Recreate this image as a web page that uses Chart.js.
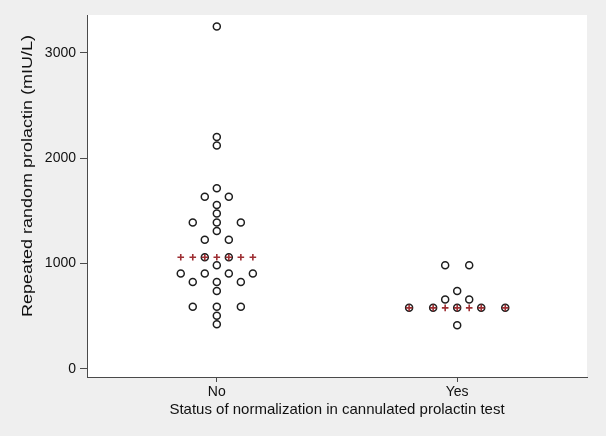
<!DOCTYPE html>
<html>
<head>
<meta charset="utf-8">
<script src="https://cdn.jsdelivr.net/npm/chart.js@4.4.1/dist/chart.umd.min.js"></script>
<style>
  html, body { margin: 0; padding: 0; background: #efefef; }
  #wrap { width: 606px; height: 436px; }
</style>
</head>
<body>
<div id="wrap"><canvas id="chart" width="606" height="436"></canvas></div>
<script>
// Groups on the x axis
const groups = ['No', 'Yes'];

// Repeated random prolactin (mIU/L)
const noValues = [3250, 2200, 2120, 1715, 1635, 1635, 1555, 1475, 1390, 1390, 1390,
                  1310, 1225, 1225, 1060, 1060, 985, 905, 905, 905, 905,
                  825, 825, 825, 740, 590, 590, 590, 505, 425];
const yesValues = [985, 985, 740, 660, 660, 580, 580, 580, 580, 580, 415];

const yTicks = [0, 1000, 2000, 3000];
const xTitle = 'Status of normalization in cannulated prolactin test';
const yTitle = 'Repeated random prolactin (mIU/L)';

// Horizontal spacing between dots in a row (x-axis units)
const STEP = 0.05;

// Stata-like dotplot: equal values share a row, centred on the group
function dotRows(values) {
    const counts = {};
    values.forEach(v => counts[v] = (counts[v] || 0) + 1);
    return counts;
}

function dotPoints(values, gi) {
    const counts = dotRows(values);
    const pts = [];
    Object.keys(counts).forEach(k => {
        const n = counts[k];
        for (let i = 0; i < n; i++) {
            pts.push({ x: gi + (2 * i - (n - 1)) * STEP, y: +k });
        }
    });
    return pts;
}

function median(values) {
    const s = values.slice().sort((a, b) => a - b);
    const m = Math.floor(s.length / 2);
    return s.length % 2 ? s[m] : (s[m - 1] + s[m]) / 2;
}

// Median markers: across the widest row plus the central slots
function medianPoints(values, gi) {
    const counts = dotRows(values);
    const widest = Math.max(...Object.values(counts));
    const slots = new Set([-2, -1, 0, 1, 2]);
    for (let i = 0; i < widest; i++) slots.add(2 * i - (widest - 1));
    const med = median(values);
    return [...slots].sort((a, b) => a - b).map(s => ({ x: gi + s * STEP, y: med }));
}

const seriesValues = [noValues, yesValues];
let dots = [], medians = [];
seriesValues.forEach((vals, gi) => {
    dots = dots.concat(dotPoints(vals, gi));
    medians = medians.concat(medianPoints(vals, gi));
});

const FAMILY = "'Liberation Sans', Arial, Helvetica, sans-serif";
const TICK_FONT = { family: FAMILY, size: 14 };
const TITLE_FONT = { family: FAMILY, size: 15 };
const AXIS = '#4a4a4a';
const TEXT = '#111111';

// Grey page, white plot region
const backgroundPlugin = {
    id: 'background',
    beforeDraw(chart) {
        const { ctx, chartArea: a } = chart;
        ctx.save();
        ctx.fillStyle = '#efefef';
        ctx.fillRect(0, 0, chart.width, chart.height);
        ctx.fillStyle = '#ffffff';
        ctx.fillRect(a.left, a.top, a.right - a.left, a.bottom - a.top);
        ctx.restore();
    }
};

// Y title drawn separately so it can sit where Stata put it
const yTitlePlugin = {
    id: 'yTitle',
    afterDraw(chart) {
        const { ctx } = chart;
        ctx.save();
        ctx.translate(28, 176);
        ctx.rotate(-Math.PI / 2);
        ctx.scale(1.2, 1);
        ctx.font = `${TITLE_FONT.size}px ${FAMILY}`;
        ctx.fillStyle = TEXT;
        ctx.textAlign = 'center';
        ctx.textBaseline = 'middle';
        ctx.fillText(yTitle, 0, 0);
        ctx.restore();
    }
};

new Chart(document.getElementById('chart'), {
    type: 'scatter',
    data: {
        datasets: [{
            label: 'Median',
            data: medians,
            pointStyle: 'cross',
            pointRadius: 3.3,
            pointBorderWidth: 1.6,
            borderColor: '#9e2f33',
            backgroundColor: '#9e2f33',
            order: 0
        }, {
            label: 'Prolactin',
            data: dots,
            pointStyle: 'circle',
            pointRadius: 3.5,
            pointBorderWidth: 1.5,
            borderColor: '#1e1e1e',
            backgroundColor: 'rgba(0,0,0,0)',
            order: 1
        }]
    },
    options: {
        responsive: false,
        animation: false,
        events: [],
        layout: { padding: { left: 0, top: 15, right: 19, bottom: 0 } },
        plugins: {
            legend: { display: false },
            tooltip: { enabled: false }
        },
        scales: {
            x: {
                type: 'linear',
                min: -0.54,
                max: 1.54,
                afterBuildTicks: scale => { scale.ticks = groups.map((g, i) => ({ value: i })); },
                afterFit: scale => { scale.height = 59; },
                ticks: {
                    callback: v => groups[v],
                    font: TICK_FONT,
                    color: TEXT,
                    padding: 2,
                    maxRotation: 0
                },
                grid: {
                    display: true,
                    drawOnChartArea: false,
                    drawTicks: true,
                    tickLength: 5,
                    color: AXIS
                },
                border: { display: true, color: AXIS, width: 1 },
                title: {
                    display: true,
                    text: xTitle,
                    font: TITLE_FONT,
                    color: TEXT,
                    padding: { top: 0, bottom: 17 }
                }
            },
            y: {
                type: 'linear',
                min: -76,
                max: 3358,
                afterBuildTicks: scale => { scale.ticks = yTicks.map(v => ({ value: v })); },
                afterFit: scale => { scale.width = 87; },
                ticks: {
                    callback: v => String(v),
                    font: TICK_FONT,
                    color: TEXT,
                    padding: 4
                },
                grid: {
                    display: true,
                    drawOnChartArea: false,
                    drawTicks: true,
                    tickLength: 7,
                    color: AXIS
                },
                border: { display: true, color: AXIS, width: 1 }
            }
        }
    },
    plugins: [backgroundPlugin, yTitlePlugin]
});
</script>
</body>
</html>
